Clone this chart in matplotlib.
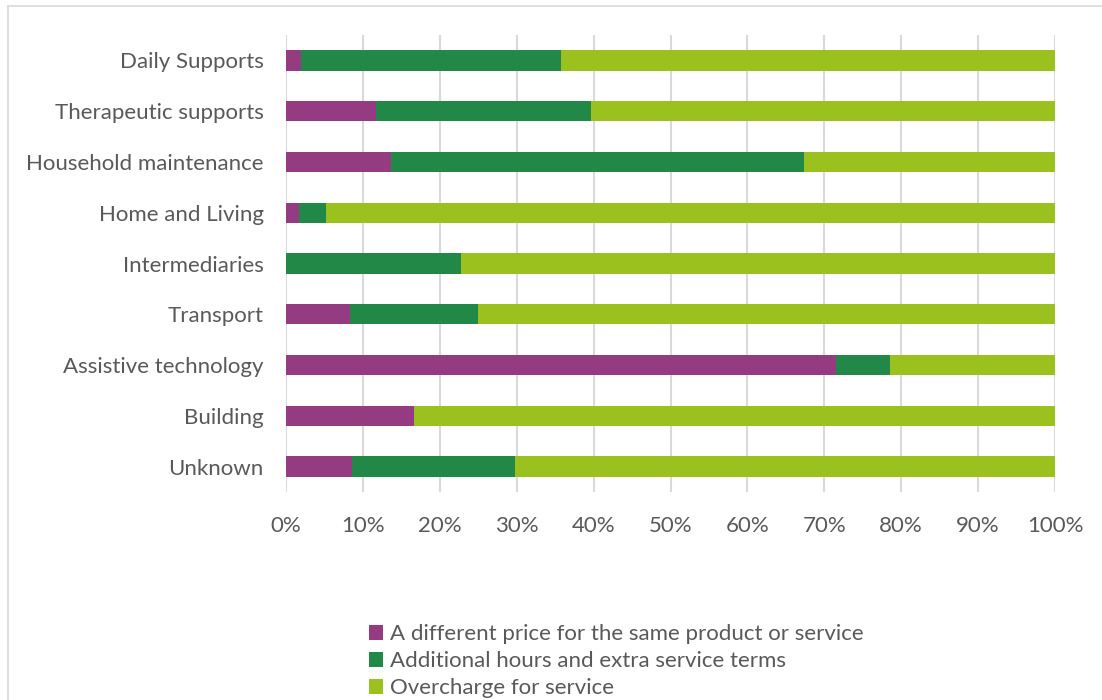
import numpy as np
import matplotlib.pyplot as plt
from matplotlib.patches import Patch
from matplotlib.ticker import PercentFormatter

plt.rcParams['font.family'] = ['Lato', 'DejaVu Sans']

# --- data (shares of each category, %) ---
categories = ['Daily Supports', 'Therapeutic supports', 'Household maintenance',
              'Home and Living', 'Intermediaries', 'Transport',
              'Assistive technology', 'Building', 'Unknown']
different_price = [2.0, 11.7, 13.7, 1.7, 0.0, 8.3, 71.5, 16.6, 8.6]
additional_hours = [33.8, 28.0, 53.6, 3.5, 22.8, 16.7, 7.1, 0.0, 21.2]
overcharge = [100 - a - b for a, b in zip(different_price, additional_hours)]

series_names = ['A different price for the same product or service',
                'Additional hours and extra service terms',
                'Overcharge for service']
colors = ['#953B82', '#218847', '#9BC11E']
text_grey = '#595959'

fig = plt.figure(figsize=(11.02, 7), dpi=100)
ax = fig.add_axes([286 / 1102, 1 - 492 / 700, 769 / 1102, 457 / 700])

y = np.arange(len(categories))
left = np.zeros(len(categories))
for vals, col, name in zip([different_price, additional_hours, overcharge], colors, series_names):
    ax.barh(y, vals, left=left, height=0.4, color=col, label=name, zorder=3)
    left += np.array(vals)

ax.set_ylim(len(categories) - 0.5, -0.5)
ax.set_yticks(y)
ax.set_yticklabels(categories)
ax.set_xlim(0, 100)
ax.set_xticks(np.arange(0, 101, 10))
ax.xaxis.set_major_formatter(PercentFormatter(decimals=0))
ax.grid(axis='x', color='#D9D9D9', linewidth=1.5, zorder=0)
for s in ax.spines.values():
    s.set_visible(False)
ax.tick_params(axis='both', length=0, labelsize=16, colors=text_grey)
ax.tick_params(axis='y', pad=16)
ax.tick_params(axis='x', pad=17)

# chart frame
fig.add_artist(plt.Line2D([8 / 1102, 8 / 1102], [0, 1 - 6 / 700], color='#D9D9D9', lw=1.2))
fig.add_artist(plt.Line2D([8 / 1102, 1], [1 - 6 / 700, 1 - 6 / 700], color='#D9D9D9', lw=1.2))

handles = [Patch(facecolor=c, label=n) for c, n in zip(colors, series_names)]
fig.legend(handles=handles, loc='lower left', bbox_to_anchor=(349 / 1102, -0.026),
           frameon=False, fontsize=16, labelcolor=text_grey,
           handlelength=0.65, handleheight=0.65, handletextpad=0.3, labelspacing=0.32)

fig.savefig('out.png', dpi=100)
